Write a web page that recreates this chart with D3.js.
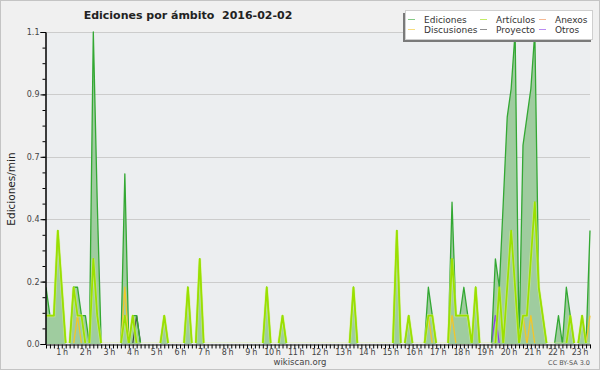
<!DOCTYPE html>
<html>
<head>
<meta charset="utf-8">
<script src="https://cdn.jsdelivr.net/npm/d3@7"></script>
<style>
  body { margin: 0; background: #f0f0f0; }
  svg { display: block; font-family: "DejaVu Sans", sans-serif; }
</style>
</head>
<body>
<svg id="chart" width="600" height="370"></svg>
<script>
// 10 minute steps, 00:00 .. 23:00 (one row per hour)
var ediciones = [
  0.2, 0.1, 0.1, 0.4, 0.2, 0,
  0, 0.2, 0.2, 0.1, 0.1, 0,
  1.1, 0.5, 0, 0, 0, 0,
  0, 0, 0.6, 0, 0.1, 0.1,
  0, 0, 0, 0, 0, 0,
  0.1, 0, 0, 0, 0, 0,
  0.2, 0, 0, 0.3, 0, 0,
  0, 0, 0, 0, 0, 0,
  0, 0, 0, 0, 0, 0,
  0, 0, 0.2, 0, 0, 0,
  0.1, 0, 0, 0, 0, 0,
  0, 0, 0, 0, 0, 0,
  0, 0, 0, 0, 0, 0,
  0.2, 0, 0, 0, 0, 0,
  0, 0, 0, 0, 0, 0.4,
  0, 0, 0.1, 0, 0, 0,
  0, 0.2, 0.1, 0, 0, 0,
  0, 0.5, 0.1, 0.1, 0.2, 0.1,
  0, 0.2, 0, 0, 0, 0,
  0.3, 0.2, 0.5, 0.8, 0.9, 1.1,
  0, 0.7, 0.8, 0.9, 1.1, 0.2,
  0.1, 0, 0, 0, 0.1, 0,
  0.2, 0.1, 0, 0, 0.1, 0,
  0.4
];
var articulos = [
  0.1, 0.1, 0.1, 0.4, 0.2, 0,
  0, 0.2, 0.1, 0.1, 0, 0,
  0.3, 0.1, 0, 0, 0, 0,
  0, 0, 0.1, 0, 0.1, 0,
  0, 0, 0, 0, 0, 0,
  0.1, 0, 0, 0, 0, 0,
  0.2, 0, 0, 0.3, 0, 0,
  0, 0, 0, 0, 0, 0,
  0, 0, 0, 0, 0, 0,
  0, 0, 0.2, 0, 0, 0,
  0.1, 0, 0, 0, 0, 0,
  0, 0, 0, 0, 0, 0,
  0, 0, 0, 0, 0, 0,
  0.2, 0, 0, 0, 0, 0,
  0, 0, 0, 0, 0, 0.4,
  0, 0, 0.1, 0, 0, 0,
  0, 0.1, 0.1, 0, 0, 0,
  0, 0.3, 0.1, 0.1, 0.1, 0.1,
  0, 0.2, 0, 0, 0, 0,
  0, 0.2, 0, 0.2, 0.4, 0.2,
  0, 0.1, 0.1, 0.3, 0.5, 0.2,
  0.1, 0, 0, 0, 0, 0,
  0, 0.1, 0, 0, 0.1, 0,
  0
];
// sparse series: [index, value]
var discusiones = [[8, 0.1], [20, 0.2], [97, 0.1], [103, 0.1], [121, 0.1], [123, 0.1], [138, 0.1]];
var proyecto = [[23, 0.1]];
var otros = [[114, 0.1]];
var anexos = [];

var hourLabels = ["1 h","2 h","3 h","4 h","5 h","6 h","7 h","8 h","9 h","10 h","11 h","12 h",
  "13 h","14 h","15 h","16 h","17 h","18 h","19 h","20 h","21 h","22 h","23 h"];
var yTicks = [0, 0.22, 0.44, 0.66, 0.88, 1.1];

document.addEventListener('DOMContentLoaded', drawChart, false);

function drawChart() {
  var n = ediciones.length;
  function expand(pairs) {
    var a = d3.range(n).map(function() { return 0; });
    pairs.forEach(function(p) { a[p[0]] = p[1]; });
    return a;
  }

  var series = [
    {name: "Ediciones", values: ediciones, color: "#33a833", width: 1.3},
    {name: "Anexos", values: expand(anexos), color: "#f08a4b", width: 1.2},
    {name: "Proyecto", values: expand(proyecto), color: "#444444", width: 1.2},
    {name: "Otros", values: expand(otros), color: "#8a3ee8", width: 1.3},
    {name: "Discusiones", values: expand(discusiones), color: "#f2c62a", width: 1.3},
    {name: "Artículos", values: articulos, color: "#9be000", width: 1.8}
  ];

  var svg = d3.select("#chart");
  var plotLeft = 46, plotRight = 590, plotTop = 32, plotBottom = 344;

  svg.append("rect").attr("x", 0.5).attr("y", 0.5).attr("width", 599).attr("height", 369)
      .attr("fill", "#f0f0f0").attr("stroke", "#c4c4c4");
  svg.append("rect").attr("x", plotLeft).attr("y", plotTop)
      .attr("width", plotRight - plotLeft).attr("height", plotBottom - plotTop)
      .attr("fill", "#eceef0");

  // lines lying on zero are hidden under the axis
  svg.append("clipPath").attr("id", "above-zero")
    .append("rect").attr("x", plotLeft).attr("y", plotTop - 2)
      .attr("width", plotRight - plotLeft + 2).attr("height", plotBottom - plotTop + 1);

  var x = d3.scaleLinear().domain([0, n - 1]).range([plotLeft, plotRight]);
  var y = d3.scaleLinear().domain([0, 1.1]).range([plotBottom, plotTop]);

  // grid
  svg.append("g")
    .selectAll("line")
    .data(yTicks.slice(1))
    .enter().append("line")
      .attr("x1", plotLeft).attr("x2", plotRight)
      .attr("y1", function(d) { return Math.round(y(d)) + 0.5; })
      .attr("y2", function(d) { return Math.round(y(d)) + 0.5; })
      .attr("stroke", "#cccccc");

  // filled total
  svg.append("path")
      .datum(ediciones)
      .attr("fill", "#9fcc9f")
      .attr("d", d3.area()
        .x(function(d, i) { return x(i); })
        .y0(plotBottom)
        .y1(function(d) { return y(d); }));

  var line = d3.line()
      .x(function(d, i) { return x(i); })
      .y(function(d) { return y(d); });

  var lines = svg.append("g").attr("clip-path", "url(#above-zero)");

  // ordering: totals below, articles on top
  var drawOrder = ["Anexos", "Proyecto", "Otros", "Ediciones", "Discusiones", "Artículos"];
  drawOrder.forEach(function(name) {
    var s = series.find(function(s) { return s.name === name; });
    if (name === "Artículos") {
      lines.append("path").datum(s.values).attr("fill", "none")
          .attr("stroke", "#d8f58a").attr("stroke-width", 3).attr("stroke-opacity", 0.6)
          .attr("d", line);
    }
    lines.append("path").datum(s.values).attr("fill", "none")
        .attr("stroke", s.color).attr("stroke-width", s.width)
        .attr("stroke-linejoin", "round")
        .attr("d", line);
  });

  // y axis
  var yAxis = svg.append("g").attr("transform", "translate(" + (plotLeft - 0.5) + ",0)")
      .call(d3.axisLeft(y).tickValues(yTicks).tickFormat(d3.format(".1f")).tickSize(5).tickPadding(1));
  svg.append("g").attr("transform", "translate(" + (plotLeft - 0.5) + ",0)")
      .call(d3.axisLeft(y).tickValues(d3.range(21).map(function(i) { return i * 0.055; }))
        .tickFormat("").tickSize(3));

  // x axis, tick on every point
  svg.append("g").attr("transform", "translate(0," + (plotBottom + 0.5) + ")")
      .call(d3.axisBottom(x).tickValues(d3.range(n)).tickFormat("").tickSize(4).tickSizeOuter(0));

  svg.selectAll(".domain").attr("stroke", "#000");
  svg.selectAll(".tick line").attr("stroke", "#000");
  yAxis.selectAll("text").attr("fill", "#444").style("font-size", "8px")
      .style("font-family", "DejaVu Sans, sans-serif");

  svg.append("g")
    .selectAll("text")
    .data(hourLabels)
    .enter().append("text")
      .attr("x", function(d, i) { return x((i + 1) * 6) - 2; })
      .attr("y", 355)
      .attr("text-anchor", "end")
      .attr("fill", "#444")
      .style("font-size", "8px")
      .style("letter-spacing", "-0.4px")
      .text(function(d) { return d; });

  // title and labels
  svg.append("text").attr("x", 188).attr("y", 19).attr("text-anchor", "middle")
      .style("font-size", "11px").style("font-weight", "bold").attr("fill", "#222")
      .attr("xml:space", "preserve")
      .text("Ediciones por ámbito  2016-02-02");

  svg.append("text").attr("transform", "translate(15,189) rotate(-90)")
      .attr("text-anchor", "middle").style("font-size", "10.5px").attr("fill", "#222")
      .text("Ediciones/min");

  svg.append("text").attr("x", 300).attr("y", 365).attr("text-anchor", "middle")
      .style("font-size", "8.5px").attr("fill", "#444").text("wikiscan.org");

  svg.append("text").attr("x", 590).attr("y", 365).attr("text-anchor", "end")
      .style("font-size", "6.5px").attr("fill", "#555").text("CC BY-SA 3.0");

  // legend
  var legend = svg.append("g");
  legend.append("rect").attr("x", 403).attr("y", 13).attr("width", 188).attr("height", 29)
      .attr("fill", "#7a7a7a");
  legend.append("rect").attr("x", 405.5).attr("y", 10.5).attr("width", 187).attr("height", 29)
      .attr("fill", "#ffffff").attr("stroke", "#cfcfcf");

  var legendItems = [
    {name: "Ediciones", col: 0, row: 0},
    {name: "Artículos", col: 1, row: 0},
    {name: "Anexos", col: 2, row: 0},
    {name: "Discusiones", col: 0, row: 1},
    {name: "Proyecto", col: 1, row: 1},
    {name: "Otros", col: 2, row: 1}
  ];
  var colX = [408, 480, 539];
  var item = legend.selectAll("g.item").data(legendItems).enter().append("g")
      .attr("transform", function(d) { return "translate(" + colX[d.col] + "," + (19 + d.row * 10) + ")"; });
  item.append("line").attr("x1", 0).attr("x2", 7).attr("y1", 0.5).attr("y2", 0.5)
      .attr("stroke", function(d) { return series.find(function(s) { return s.name === d.name; }).color; })
      .attr("stroke-opacity", 0.6);
  item.append("text").attr("x", 16).attr("y", 3.5)
      .style("font-size", "9px").attr("fill", "#333")
      .text(function(d) { return d.name; });
}
</script>
</body>
</html>
